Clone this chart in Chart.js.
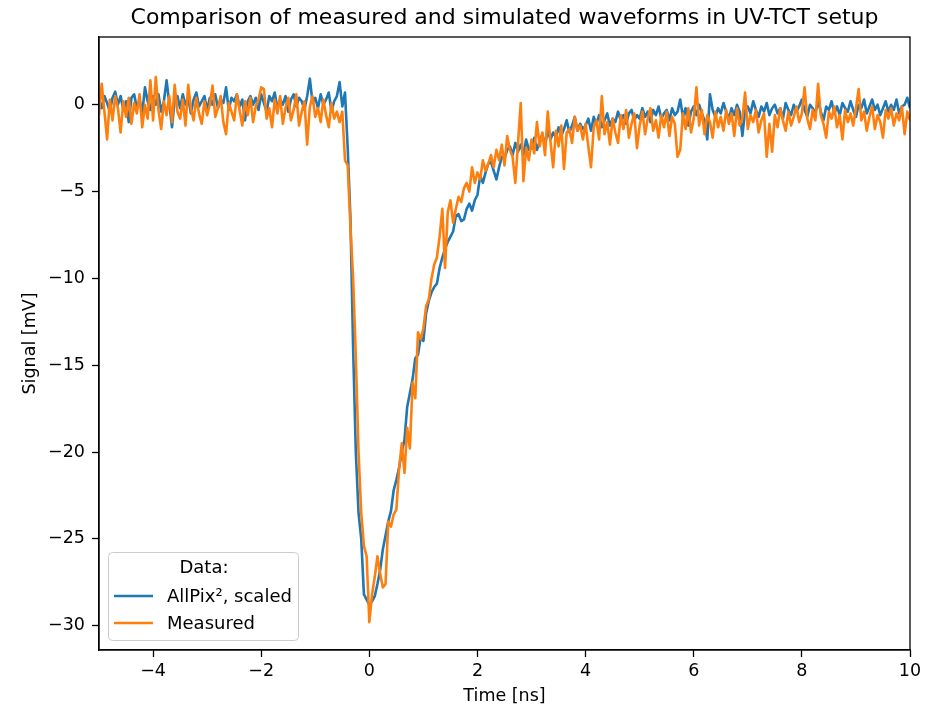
<!DOCTYPE html>
<html>
<head>
<meta charset="utf-8">
<title>UV-TCT waveforms</title>
<script src="https://cdn.jsdelivr.net/npm/chart.js@4.4.1/dist/chart.umd.min.js"></script>
<style>
  html, body { margin: 0; padding: 0; background: #fff; }
  #wrap { width: 928px; height: 708px; }
</style>
</head>
<body>
<div id="wrap"><canvas id="waveChart" width="928" height="708"></canvas></div>
<script>
// sampling grid of both waveforms (ns)
const sampleStart = -5;
const sampleStep = 0.05;

const xTicks = [-4, -2, 0, 2, 4, 6, 8, 10];
const yTicks = [-30, -25, -20, -15, -10, -5, 0];

const chartTitle = "Comparison of measured and simulated waveforms in UV-TCT setup";

// AllPix² simulation, scaled [mV]
const simulated = [
  0.3, -0.2, 0.5, 0.1, -0.4, 0.4, 0.75, 0.0, 0.5, -0.3,
  0.2, -1.0, 0.4, 0.6, -0.2, 0.3, -0.5, 1.0, 0.2, -0.3,
  0.5, 0.0, 0.6, -0.4, 0.2, 1.4, 0.1, -1.3, 0.3, 0.5,
  -0.2, 0.6, 0.0, 0.4, -0.5, 0.3, 0.7, -0.1, 0.2, 0.5,
  -0.3, 0.4, 0.0, 0.6, -0.2, 0.3, 0.1, 1.0, -0.3, 0.4,
  0.2, 0.6, -0.1, 0.3, -0.9, 0.2, 0.5, 0.0, 0.4, -0.3,
  0.6, 0.1, -0.4, 0.5, 0.2, 0.7, -0.2, 0.3, 0.0, 0.5,
  -0.4, 0.3, 0.6, -0.1, 0.4, 0.2, -0.3, 0.5, 1.5, 0.1,
  0.4, -0.2, 0.6, 0.0, 0.3, 0.7, -0.4, 0.2, 0.5, 1.3,
  -0.1, 0.7,
  -2.5, -6.5, -14.0, -20.0, -23.5, -25.0, -28.2, -28.5,
  -28.8, -28.6, -28.3, -27.6, -26.8, -25.6, -24.8, -24.0, -23.4, -22.2,
  -21.6, -20.9, -20.0, -19.3, -17.4, -16.6, -15.8, -14.6, -14.4, -13.4,
  -13.6, -12.0, -11.3, -10.8, -10.5, -10.3, -9.4, -8.8, -8.3, -7.9,
  -7.6, -7.3, -6.4, -6.3, -6.7, -6.6, -6.0, -5.7, -6.1, -5.5,
  -5.2, -4.1, -4.5, -3.9, -3.4, -3.3, -3.8, -4.3, -3.6, -3.0,
  -3.1, -2.6, -2.4, -2.9, -2.2, -2.7, -2.3, -2.9, -2.0, -2.6,
  -2.5, -1.9, -2.6, -2.1, -1.7, -2.3, -1.5, -2.0, -1.6, -1.9,
  -1.3, -1.8, -1.4, -0.9, -1.6, -1.2, -0.7, -1.5, -1.1, -1.4,
  -1.2, -0.8, -1.5, -0.7, -1.1, -0.6, -1.3, -0.9, -0.5, -1.2,
  -0.8, -1.0, -0.4, -0.9, -0.6, -1.1, -0.5, -0.3, -0.9, -0.6,
  -0.8, -0.2, -0.7, -0.4, -1.0, -0.3, -0.6, -0.1, -0.8, -0.5,
  -0.3, -0.9, -0.2, -0.6, -0.4, 0.3, -0.7, -0.2, -1.2, -0.4,
  -0.1, -0.6, 0.0, -0.5, -0.9, -2.0, 0.6, -0.3, -0.7, -0.2,
  -0.5, 0.1, -0.4, -0.8, -0.2, -0.6, 0.0, -0.4, -1.8, -0.3,
  -0.1, -0.5, 0.2, -0.3, -0.7, -0.1, -0.4, 0.1, -0.6, -0.2,
  0.0, -0.5, -0.2, -0.8, 0.1, -0.3, -0.6, 0.0, -0.4, -0.1,
  0.3, -0.3, -0.7, 0.0, -0.2, -0.5, 0.2, -0.4, -0.9, -0.1,
  -0.3, 0.2, -0.5, -0.1, -0.6, 0.1, -0.2, -0.4, 0.2, -0.3,
  -0.7, 0.0, -0.2, 0.3, -0.5, -0.1, 0.3, -0.3, 0.0, -0.6,
  -0.2, 0.2, -0.4, 0.0, -0.3, 0.3, -0.5, -0.1, 0.0, 0.4, -0.2
];

// measured UV-TCT waveform [mV]
const measured = [
  -0.6, 1.2, -0.4, -2.0, 0.3, -0.9, 0.5, -0.2, -1.6, 0.2,
  -0.7, 0.4, -1.1, 0.1, -0.5, 0.6, -1.3, 0.0, -0.8, 1.4,
  -0.9, 1.6, -0.3, -1.4, 0.2, -0.6, 0.5, -1.0, 1.15, -0.4,
  -0.8, 0.3, -1.2, 1.15, -0.2, -0.9, 0.4, -0.5, -1.1, 0.2,
  -0.6, 0.0, 1.1, -0.7, -0.2, 0.5, -1.0, -1.7, 0.1, -0.4,
  -0.9, 0.6, -0.3, -1.2, 0.2, -0.6, 0.4, -1.0, -0.1, 0.3,
  1.0, 0.9, -0.8, -0.2, -1.3, 0.3, -0.5, 0.5, -1.1, -0.2,
  0.4, -0.9, -0.3, 0.6, -1.2, -0.4, 0.2, -2.3, -0.1, 0.5,
  -0.7, -0.2, -1.0, 0.3, -0.6, -1.3, 0.1, -0.8, -0.4, -1.0,
  -0.4, -3.2,
  -3.5, -7.0, -10.0, -14.5, -20.0, -23.5, -25.4, -26.0,
  -29.8, -28.2, -27.2, -26.0, -27.0, -27.8, -27.6, -24.0, -24.3, -23.6,
  -23.3, -21.0, -19.5, -21.2, -18.6, -19.8, -16.0, -16.9, -13.1, -13.5,
  -12.9, -11.6, -11.2, -10.0, -9.2, -8.8, -7.6, -6.0, -9.4, -6.2,
  -5.5, -6.8, -6.0, -5.3, -5.6, -4.8, -4.5, -5.0, -3.6, -4.5,
  -3.9, -4.3, -3.2, -3.8, -3.4, -2.9, -3.6, -2.6, -3.2, -2.3,
  -3.5, -1.8, -2.6, -3.0, -4.5, -2.2, 0.1, -4.4, -2.5, -3.2,
  -2.0, -2.8, -1.0, -2.4, -1.6, -2.9, -0.4, -2.1, -3.6, -1.5,
  -2.4, -1.2, -3.7, -1.6, -1.4, -2.2, -0.7, -1.5, -1.2, -2.0,
  -1.1, -2.4, -3.6, -1.3, -0.9, -2.0, 0.5, -1.7, -1.0, -2.3,
  -0.8, -1.6, -2.2, -0.6, -1.4, -0.3, -1.9, -1.1, -0.5, -2.5,
  -1.2, -0.4, -1.7, -0.8, -0.2, -1.5, -0.9, -1.9, -0.6, -1.3,
  -0.4, -1.8, -0.7, -1.1, -3.0, -2.6, -0.5, -1.4, -0.2, -1.6,
  -0.8, 1.0, -1.2, -0.3, -1.7, -0.6, -1.0, -1.9, -0.4, -1.3,
  -0.7, -1.5, -0.3, -1.1, -0.5, -1.8, -0.2, -1.2, -0.8, 0.7,
  -1.4, -0.6, -1.0, -0.3, -1.6, -0.9, -0.5, -3.0, -1.1, -2.7,
  -0.6, -1.3, -0.2, -0.9, -1.5, -0.4, -1.2, -0.7, -0.1, -1.0,
  -0.5, 1.0, -0.8, -1.4, -0.3, -0.9, 1.2, -0.6, -1.1, -1.9,
  -0.4, -0.8, -0.1, -1.3, -0.6, -2.0, -0.3, -1.0, -0.5, -1.2,
  -0.2, 0.9, -0.9, -0.4, -1.5, -0.7, -0.1, -1.4, -0.6, -1.0,
  -1.9, -0.3, -0.8, -0.2, -1.2, -0.5, -0.9, -0.1, -1.7, -0.4, -0.9
];

const FONT = "'DejaVu Sans', sans-serif";

function toPoints(values) {
  return values.map((v, i) => ({ x: sampleStart + i * sampleStep, y: v }));
}

function fmt(v) {
  return v < 0 ? "\u2212" + Math.abs(v) : String(v);
}

// frame round the plot area and the title centred over it
const framePlugin = {
  id: "frame",
  afterDatasetsDraw(chart) {
    const { ctx, chartArea: a } = chart;
    ctx.save();
    ctx.strokeStyle = "#000";
    ctx.lineWidth = 1.3;
    ctx.strokeRect(a.left, a.top, a.right - a.left, a.bottom - a.top);
    ctx.font = "22px " + FONT;
    ctx.fillStyle = "#000";
    ctx.textAlign = "center";
    ctx.textBaseline = "middle";
    ctx.fillText(chartTitle, (a.left + a.right) / 2, a.top - 19);
    ctx.restore();
  }
};

// legend box in the lower left corner
const legendPlugin = {
  id: "boxLegend",
  afterDraw(chart) {
    const { ctx, chartArea: a } = chart;
    const x = a.left + 9, y = a.bottom - 98, w = 190, h = 88;
    ctx.save();
    ctx.fillStyle = "rgba(255,255,255,0.8)";
    ctx.strokeStyle = "#cccccc";
    ctx.lineWidth = 1;
    ctx.beginPath();
    ctx.roundRect(x + 0.5, y + 0.5, w, h, 4);
    ctx.fill();
    ctx.stroke();

    ctx.font = "18px " + FONT;
    ctx.fillStyle = "#000";
    ctx.textBaseline = "middle";
    ctx.textAlign = "center";
    ctx.fillText("Data:", x + w / 2 + 1, y + 16);

    ctx.textAlign = "left";
    chart.data.datasets.forEach((ds, i) => {
      const ly = y + 44 + i * 27;
      ctx.strokeStyle = ds.borderColor;
      ctx.lineWidth = 2.6;
      ctx.beginPath();
      ctx.moveTo(x + 6, ly);
      ctx.lineTo(x + 45, ly);
      ctx.stroke();
      ctx.fillText(ds.label, x + 59, ly + 1);
    });
    ctx.restore();
  }
};

new Chart(document.getElementById("waveChart").getContext("2d"), {
  type: "line",
  data: {
    datasets: [
      {
        label: "AllPix\u00b2, scaled",
        data: toPoints(simulated),
        borderColor: "#1f77b4",
        borderWidth: 2.6,
        pointRadius: 0,
        tension: 0,
        borderJoinStyle: "round",
        order: 1
      },
      {
        label: "Measured",
        data: toPoints(measured),
        borderColor: "#ff7f0e",
        borderWidth: 2.6,
        pointRadius: 0,
        tension: 0,
        borderJoinStyle: "round",
        order: 0
      }
    ]
  },
  options: {
    responsive: false,
    animation: false,
    layout: { padding: { left: 0, right: 18, top: 37, bottom: 0 } },
    plugins: {
      legend: { display: false },
      tooltip: { enabled: false },
      title: { display: false }
    },
    scales: {
      x: {
        type: "linear",
        min: -5,
        max: 10,
        afterBuildTicks: axis => { axis.ticks = xTicks.map(v => ({ value: v })); },
        afterFit: axis => { axis.height = 58; },
        ticks: {
          color: "#000",
          font: { family: FONT, size: 17.5 },
          padding: 4,
          maxRotation: 0,
          callback: v => fmt(v)
        },
        grid: {
          drawOnChartArea: false,
          drawTicks: true,
          tickLength: 7,
          tickColor: "#000",
          tickWidth: 1.3
        },
        border: { display: true, color: "#000", width: 1.3 },
        title: {
          display: true,
          text: "Time [ns]",
          color: "#000",
          font: { family: FONT, size: 17.5 },
          padding: { top: 0, bottom: 1 }
        }
      },
      y: {
        type: "linear",
        min: -31.4,
        max: 3.9,
        afterBuildTicks: axis => { axis.ticks = yTicks.map(v => ({ value: v })); },
        afterFit: axis => { axis.width = 99; },
        ticks: {
          color: "#000",
          font: { family: FONT, size: 17.5 },
          padding: 7,
          callback: v => fmt(v)
        },
        grid: {
          drawOnChartArea: false,
          drawTicks: true,
          tickLength: 7,
          tickColor: "#000",
          tickWidth: 1.3
        },
        border: { display: true, color: "#000", width: 1.3 },
        title: {
          display: true,
          text: "Signal [mV]",
          color: "#000",
          font: { family: FONT, size: 17.5 },
          padding: { top: 20, bottom: 0 }
        }
      }
    }
  },
  plugins: [framePlugin, legendPlugin]
});
</script>
</body>
</html>
